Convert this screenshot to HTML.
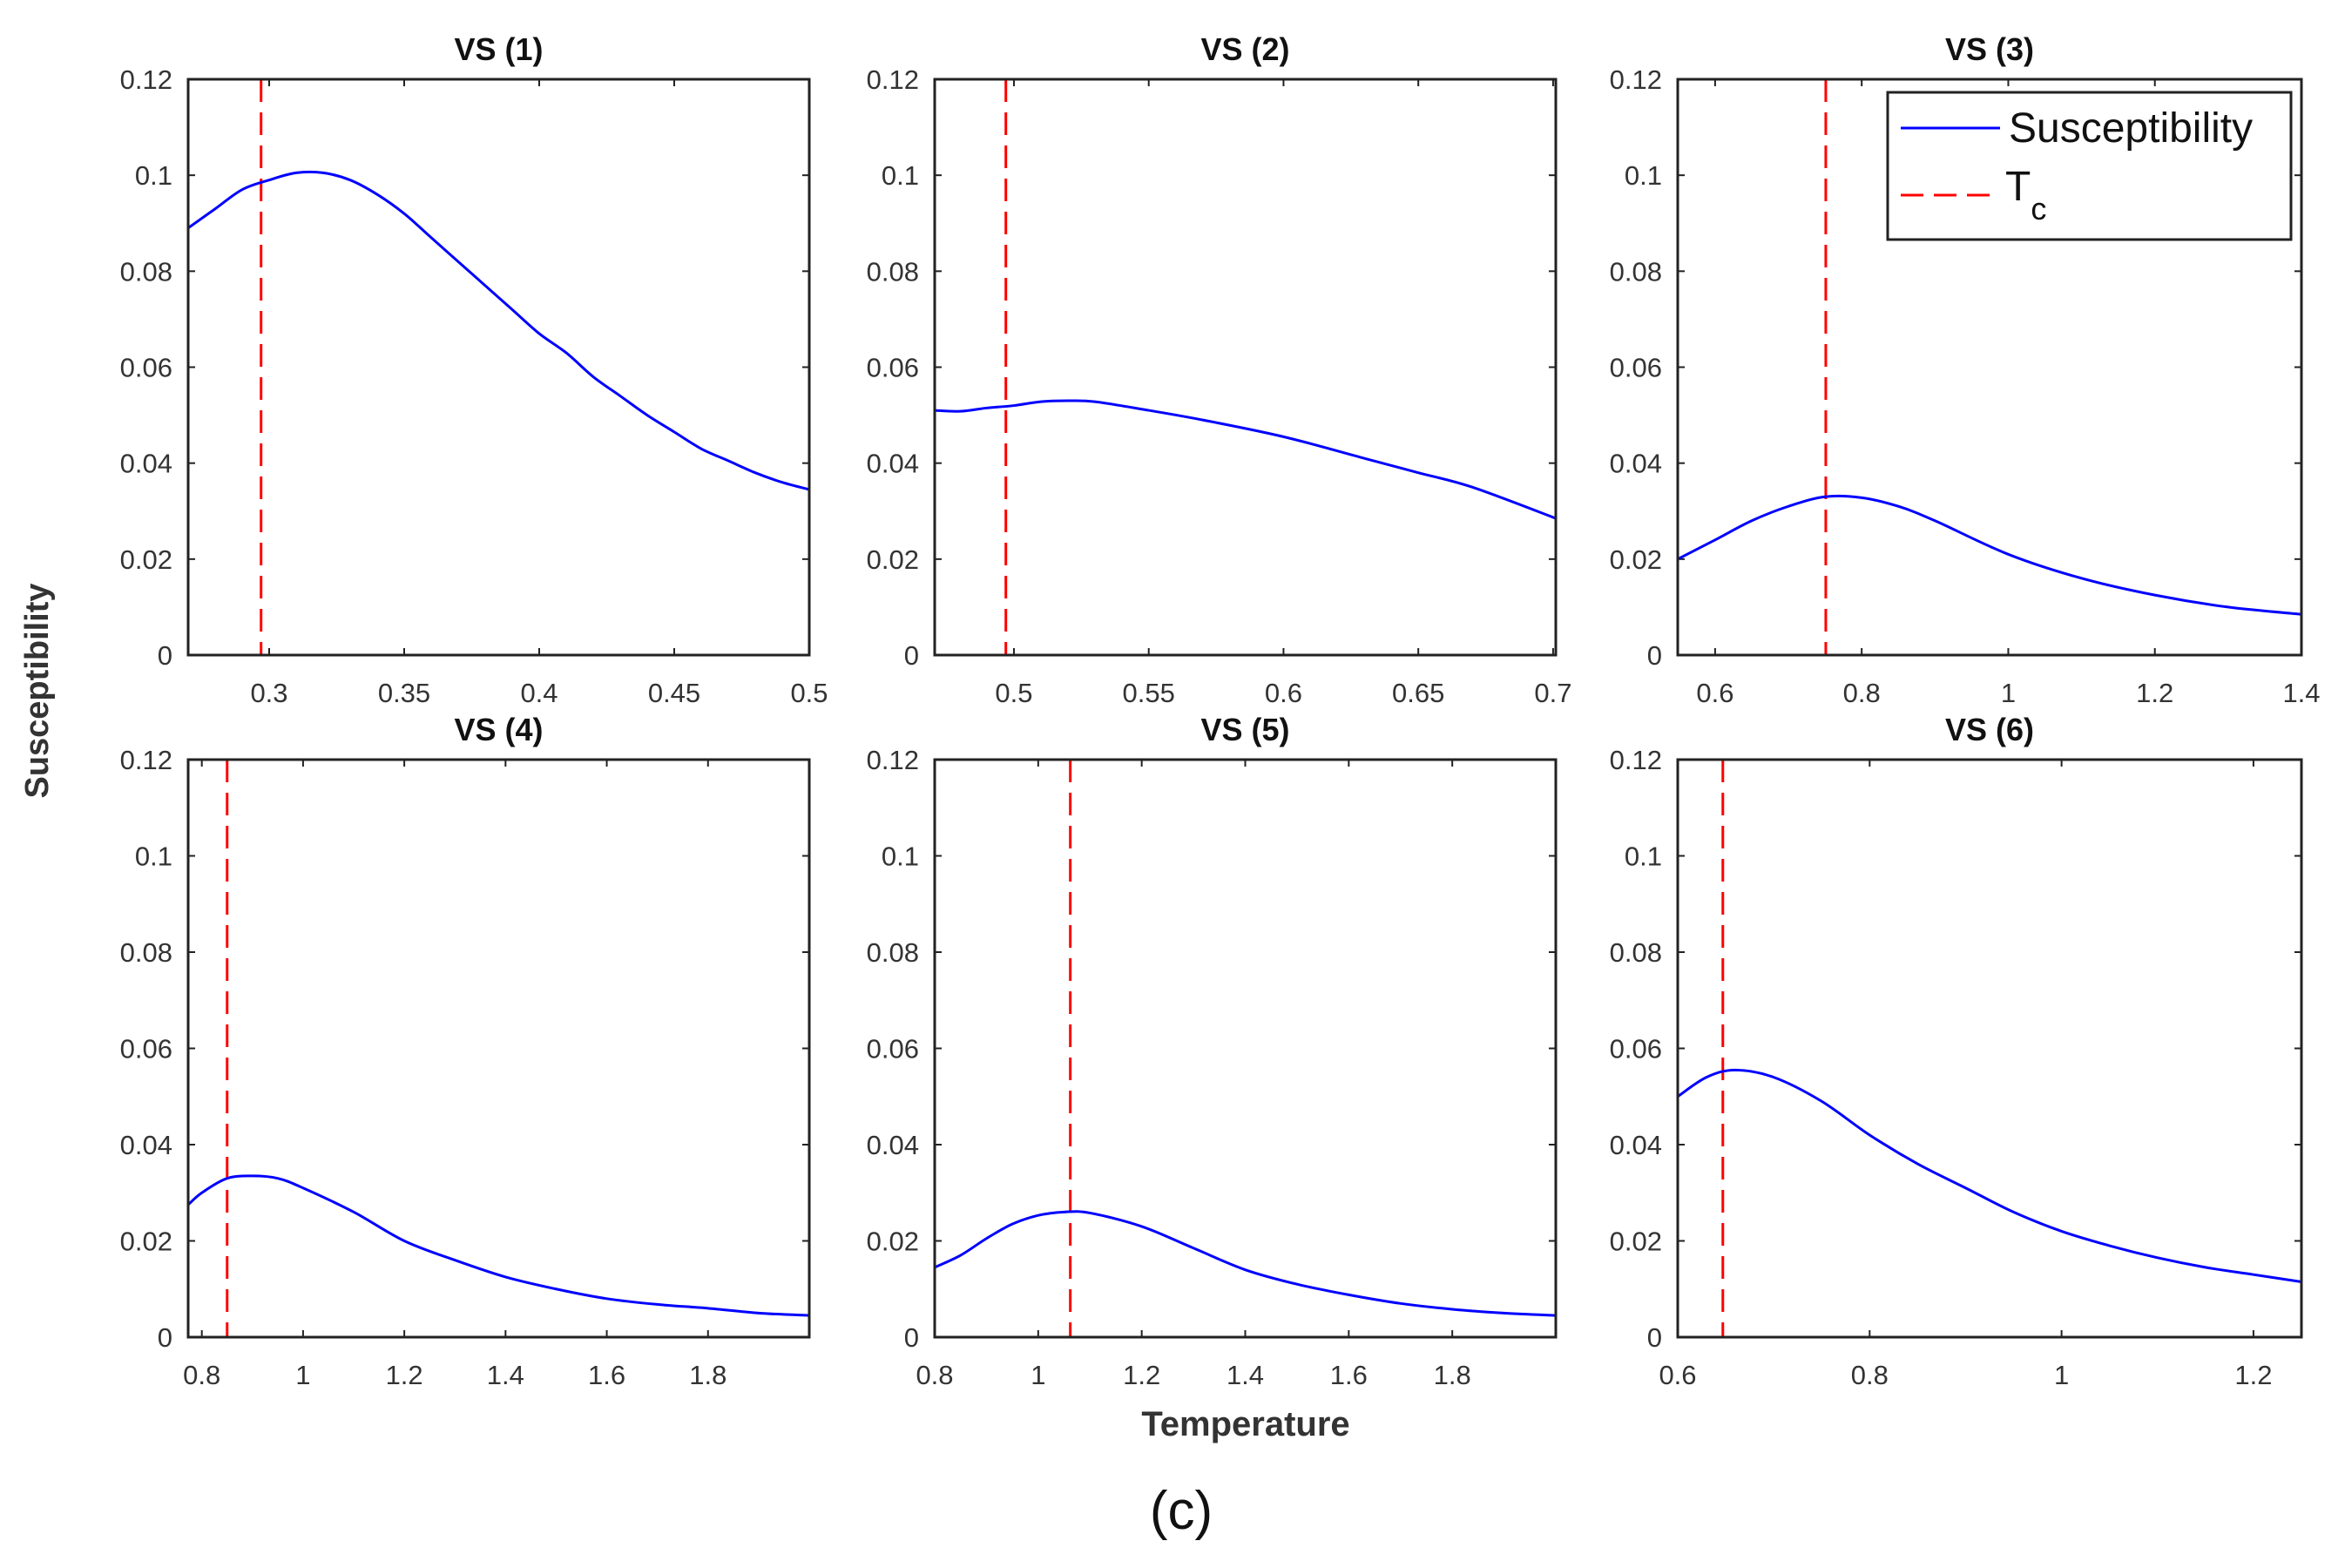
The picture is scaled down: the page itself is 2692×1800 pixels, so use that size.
<!DOCTYPE html>
<html><head><meta charset="utf-8"><style>
html,body{margin:0;padding:0;background:#fff;}
svg{display:block;font-family:"Liberation Sans",sans-serif;}
</style></head><body>
<svg id="fig" width="2692" height="1800" viewBox="0 0 2692 1800"></svg>
<script>
const titles=["VS (1)","VS (2)","VS (3)","VS (4)","VS (5)","VS (6)"];
const xRanges=[[0.27,0.5],[0.4706,0.701],[0.549,1.4],[0.773,2.0],[0.8,2.0],[0.6,1.25]];
const xTicks=[[0.3,0.35,0.4,0.45,0.5],[0.5,0.55,0.6,0.65,0.7],[0.6,0.8,1,1.2,1.4],[0.8,1,1.2,1.4,1.6,1.8],[0.8,1,1.2,1.4,1.6,1.8],[0.6,0.8,1,1.2]];
const yTicks=[0,0.02,0.04,0.06,0.08,0.1,0.12];
const tcValues=[0.297,0.497,0.751,0.85,1.062,0.647];
const temps1=[0.27,0.28,0.29,0.30,0.31,0.32,0.33,0.34,0.35,0.36,0.37,0.38,0.39,0.40,0.41,0.42,0.43,0.44,0.45,0.46,0.47,0.48,0.49,0.50];
const chi1=[0.089,0.093,0.097,0.099,0.1005,0.1005,0.099,0.096,0.092,0.087,0.082,0.077,0.072,0.067,0.063,0.058,0.054,0.050,0.0465,0.043,0.0405,0.038,0.036,0.0345];
const temps2=[0.4706,0.48,0.49,0.50,0.51,0.52,0.53,0.55,0.57,0.60,0.63,0.65,0.67,0.701];
const chi2=[0.051,0.0508,0.0515,0.052,0.0528,0.053,0.0528,0.051,0.049,0.0455,0.041,0.038,0.035,0.0285];
const temps3=[0.549,0.6,0.65,0.7,0.75,0.8,0.85,0.9,1.0,1.1,1.2,1.3,1.4];
const chi3=[0.020,0.024,0.028,0.031,0.033,0.0328,0.031,0.028,0.021,0.016,0.0125,0.010,0.0085];
const temps4=[0.773,0.8,0.85,0.9,0.95,1.0,1.1,1.2,1.3,1.4,1.5,1.6,1.7,1.8,1.9,2.0];
const chi4=[0.0275,0.030,0.033,0.0335,0.033,0.031,0.026,0.020,0.016,0.0125,0.010,0.008,0.0068,0.006,0.005,0.0045];
const temps5=[0.8,0.85,0.9,0.95,1.0,1.05,1.1,1.2,1.3,1.4,1.5,1.6,1.7,1.8,1.9,2.0];
const chi5=[0.0145,0.017,0.0205,0.0235,0.0253,0.026,0.0258,0.023,0.0185,0.014,0.011,0.0088,0.007,0.0058,0.005,0.0045];
const temps6=[0.6,0.63,0.66,0.7,0.75,0.8,0.85,0.9,0.95,1.0,1.05,1.1,1.15,1.2,1.25];
const chi6=[0.050,0.054,0.0555,0.054,0.049,0.042,0.036,0.031,0.026,0.022,0.019,0.0165,0.0145,0.013,0.0115];
const allTemps=[temps1,temps2,temps3,temps4,temps5,temps6];
const allChi=[chi1,chi2,chi3,chi4,chi5,chi6];

const NS="http://www.w3.org/2000/svg";
const svg=document.getElementById('fig');
function mk(tag,attrs,parent){const e=document.createElementNS(NS,tag);for(const k in attrs)e.setAttribute(k,attrs[k]);(parent||svg).appendChild(e);return e;}
const colX=[[216,929],[1073,1786],[1926,2642]];
const rowY=[[91,752],[872,1535]];
function fmt(v){return String(+v.toFixed(3)).replace(/^0\./,'0.');}

for(let p=0;p<6;p++){
  const [x0,x1]=colX[p%3],[y0,y1]=rowY[Math.floor(p/3)];
  const [xa,xb]=xRanges[p];
  const sx=v=>x0+(v-xa)/(xb-xa)*(x1-x0);
  const sy=v=>y1-(v/0.12)*(y1-y0);
  const g=mk('g',{});
  
  
  const t=mk('text',{x:(x0+x1)/2,y:y0-22,'text-anchor':'middle','font-size':36,'font-weight':'bold',fill:'#111'},g);
  t.textContent=titles[p];
  
  
  yTicks.forEach(v=>{
    const y=sy(v);
    mk('line',{x1:x0,x2:x0+8,y1:y,y2:y,stroke:'#222','stroke-width':2},g);
    mk('line',{x1:x1,x2:x1-8,y1:y,y2:y,stroke:'#222','stroke-width':2},g);
    const l=mk('text',{x:x0-18,y:y+11,'text-anchor':'end','font-size':31,fill:'#333'},g);
    l.textContent=v===0?'0':fmt(v);
    
    
  });
  xTicks[p].forEach(v=>{
    const x=sx(v);
    mk('line',{x1:x,x2:x,y1:y1,y2:y1-8,stroke:'#222','stroke-width':2},g);
    mk('line',{x1:x,x2:x,y1:y0,y2:y0+8,stroke:'#222','stroke-width':2},g);
    const l=mk('text',{x:x,y:y1+54,'text-anchor':'middle','font-size':31,fill:'#333'},g);
    l.textContent=fmt(v);
    
    
  });
  const tcx=sx(tcValues[p]);
  const tc=mk('line',{x1:tcx,x2:tcx,y1:y0,y2:y1,stroke:'#f00','stroke-width':3,'stroke-dasharray':'26,12'},g);
  
  
  const T=allTemps[p],C=allChi[p];
  let pts=[];for(let i=0;i<T.length;i++)pts.push([sx(T[i]),sy(C[i])]);
  let d='M'+pts[0][0]+','+pts[0][1];
  for(let i=0;i<pts.length-1;i++){
    const p0=pts[Math.max(0,i-1)],p1=pts[i],p2=pts[i+1],p3=pts[Math.min(pts.length-1,i+2)];
    d+=' C'+(p1[0]+(p2[0]-p0[0])/6)+','+(p1[1]+(p2[1]-p0[1])/6)+' '+(p2[0]-(p3[0]-p1[0])/6)+','+(p2[1]-(p3[1]-p1[1])/6)+' '+p2[0]+','+p2[1];
  }
  const cv=mk('path',{d:d,fill:'none',stroke:'#00f','stroke-width':3},g);
  
  
  mk('rect',{x:x0,y:y0,width:x1-x0,height:y1-y0,fill:'none',stroke:'#222','stroke-width':3},g);
}
</script>
<svg style="position:absolute;left:0;top:0" width="2692" height="1800">
<g>
<rect x="2167" y="106" width="463" height="169" fill="#fff" stroke="#222" stroke-width="3"/>
<line x1="2182" y1="147" x2="2296" y2="147" stroke="#00f" stroke-width="3"/>
<text x="2306" y="163" font-size="48" fill="#111" font-family="Liberation Sans,sans-serif">Susceptibility</text>
<line x1="2182" y1="224" x2="2296" y2="224" stroke="#f00" stroke-width="3" stroke-dasharray="26,12"/>
<text x="2302" y="230" font-size="48" fill="#111" font-family="Liberation Sans,sans-serif">T<tspan dy="22" font-size="36">c</tspan></text>
</g>
<text transform="translate(55,793) rotate(-90)" text-anchor="middle" font-size="38" font-weight="bold" fill="#333" font-family="Liberation Sans,sans-serif">Susceptibility</text>
<text x="1430" y="1648" text-anchor="middle" font-size="40" font-weight="bold" fill="#333" font-family="Liberation Sans,sans-serif">Temperature</text>
<text x="1356" y="1755" text-anchor="middle" font-size="62" fill="#111" font-family="Liberation Sans,sans-serif">(c)</text>
</svg>
</body></html>
